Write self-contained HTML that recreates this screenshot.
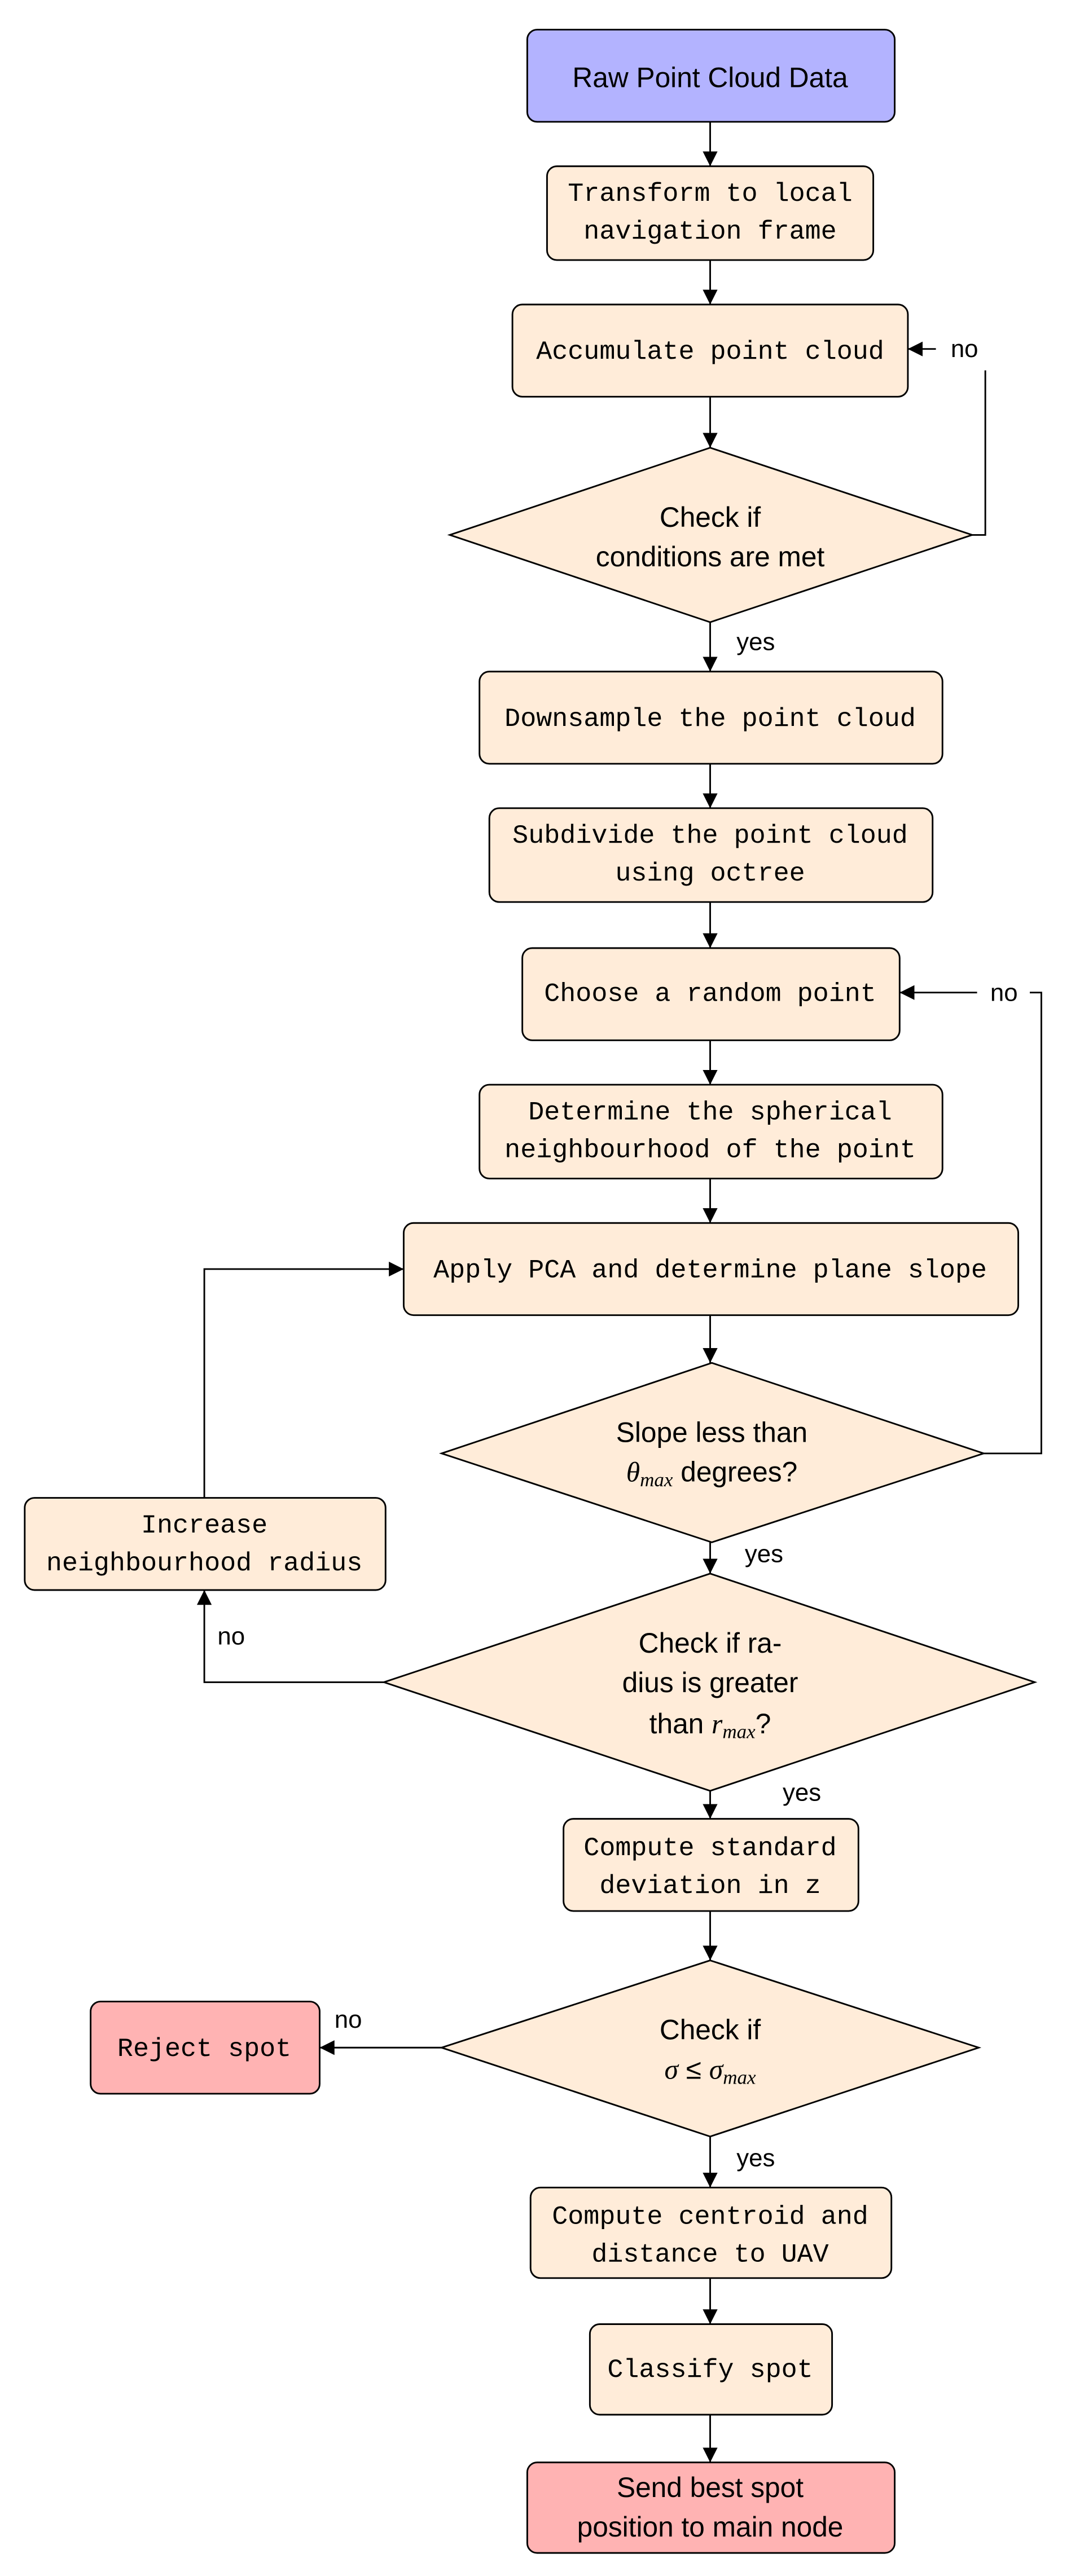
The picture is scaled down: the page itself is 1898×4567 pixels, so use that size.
<!DOCTYPE html>
<html><head><meta charset="utf-8"><style>
html,body{margin:0;padding:0;background:#fff;}
svg{display:block;}
.m{font-family:"Liberation Mono",monospace;font-size:16px;}
.s{font-family:"Liberation Sans",sans-serif;font-size:17px;}
.l{font-family:"Liberation Sans",sans-serif;font-size:15px;}
.i{font-family:"Liberation Serif",serif;font-style:italic;}
</style></head><body>
<svg width="1898" height="4567" viewBox="0 0 650 1565" preserveAspectRatio="none" xmlns="http://www.w3.org/2000/svg">
<defs><marker id="a" viewBox="0 0 10 10" refX="10" refY="5" markerWidth="9" markerHeight="9" orient="auto" markerUnits="userSpaceOnUse"><path d="M0,0 L10,5 L0,10 z" fill="#000"/></marker></defs>
<g stroke="#000" stroke-width="1" fill="#ffecd9">
<rect x="320" y="18" width="223" height="56" rx="6" fill="#b3b3ff"/>
<rect x="332" y="101" width="198" height="57" rx="6"/>
<rect x="311" y="185" width="240" height="56" rx="6"/>
<polygon points="431,272 590,325 431,378 273,325"/>
<rect x="291" y="408" width="281" height="56" rx="6"/>
<rect x="297" y="491" width="269" height="57" rx="6"/>
<rect x="317" y="576" width="229" height="56" rx="6"/>
<rect x="291" y="659" width="281" height="57" rx="6"/>
<rect x="245" y="743" width="373" height="56" rx="6"/>
<polygon points="432,828 597,883 432,937 268,883"/>
<rect x="15" y="910" width="219" height="56" rx="6"/>
<polygon points="431,956 628,1022 431,1088 233,1022"/>
<rect x="342" y="1105" width="179" height="56" rx="6"/>
<polygon points="431,1191 594,1244 431,1298 268,1244"/>
<rect x="55" y="1216" width="139" height="56" rx="6" fill="#ffb3b3"/>
<rect x="322" y="1329" width="219" height="55" rx="6"/>
<rect x="358" y="1412" width="147" height="55" rx="6"/>
<rect x="320" y="1496" width="223" height="55" rx="6" fill="#ffb3b3"/>
</g>
<g stroke="#000" stroke-width="1" fill="none" marker-end="url(#a)">
<path d="M431,74 V101"/><path d="M431,158 V185"/><path d="M431,241 V272"/>
<path d="M431,378 V408"/><path d="M431,464 V491"/><path d="M431,548 V576"/>
<path d="M431,632 V659"/><path d="M431,716 V743"/><path d="M431,799 V828"/>
<path d="M431,937 V956"/><path d="M431,1088 V1105"/><path d="M431,1161 V1191"/>
<path d="M431,1298 V1329"/><path d="M431,1384 V1412"/><path d="M431,1467 V1496"/>
<path d="M568,212 H551"/>
<path d="M593,603 H546"/>
<path d="M233,1022 H124 V966"/>
<path d="M124,910 V771 H245"/>
<path d="M268,1244 H194"/>
</g>
<g stroke="#000" stroke-width="1" fill="none">
<path d="M590,325 H598 V225"/>
<path d="M597,883 H632 V603 H625"/>
</g>
<g text-anchor="middle" fill="#000">
<text class="s" x="431" y="53">Raw Point Cloud Data</text>
<text class="m" x="431" y="122">Transform to local</text>
<text class="m" x="431" y="145">navigation frame</text>
<text class="m" x="431" y="218">Accumulate point cloud</text>
<text class="s" x="431" y="320">Check if</text>
<text class="s" x="431" y="344">conditions are met</text>
<text class="m" x="431" y="441">Downsample the point cloud</text>
<text class="m" x="431" y="512">Subdivide the point cloud</text>
<text class="m" x="431" y="535">using octree</text>
<text class="m" x="431" y="608">Choose a random point</text>
<text class="m" x="431" y="680">Determine the spherical</text>
<text class="m" x="431" y="703">neighbourhood of the point</text>
<text class="m" x="431" y="776">Apply PCA and determine plane slope</text>
<text class="s" x="432" y="876">Slope less than</text>
<text class="s" x="432" y="900"><tspan class="i">θ</tspan><tspan class="i" font-size="12" dy="3">max</tspan><tspan dy="-3"> degrees?</tspan></text>
<text class="m" x="124" y="931">Increase</text>
<text class="m" x="124" y="954">neighbourhood radius</text>
<text class="s" x="431" y="1004">Check if ra-</text>
<text class="s" x="431" y="1028">dius is greater</text>
<text class="s" x="431" y="1053">than <tspan class="i">r</tspan><tspan class="i" font-size="12" dy="3">max</tspan><tspan dy="-3">?</tspan></text>
<text class="m" x="431" y="1127">Compute standard</text>
<text class="m" x="431" y="1150">deviation in z</text>
<text class="s" x="431" y="1239">Check if</text>
<text class="s" x="431" y="1263"><tspan class="i">σ</tspan> ≤ <tspan class="i">σ</tspan><tspan class="i" font-size="12" dy="3">max</tspan></text>
<text class="m" x="124" y="1249">Reject spot</text>
<text class="m" x="431" y="1351">Compute centroid and</text>
<text class="m" x="431" y="1374">distance to UAV</text>
<text class="m" x="431" y="1444">Classify spot</text>
<text class="s" x="431" y="1517">Send best spot</text>
<text class="s" x="431" y="1541">position to main node</text>
</g>
<g fill="#000">
<text class="l" x="577" y="217">no</text>
<text class="l" x="447" y="395">yes</text>
<text class="l" x="601" y="608">no</text>
<text class="l" x="452" y="949">yes</text>
<text class="l" x="132" y="999">no</text>
<text class="l" x="475" y="1094">yes</text>
<text class="l" x="203" y="1232">no</text>
<text class="l" x="447" y="1316">yes</text>
</g>
</svg>
</body></html>
